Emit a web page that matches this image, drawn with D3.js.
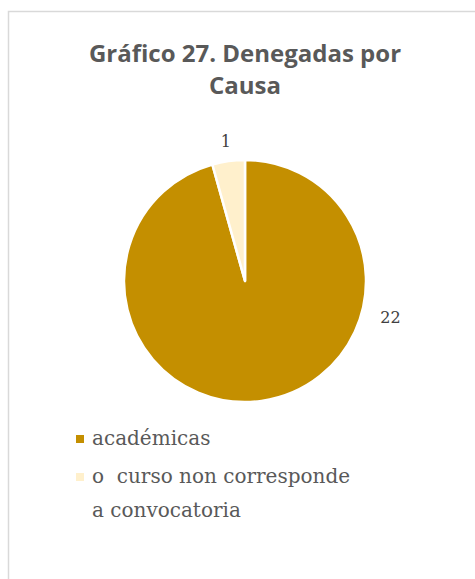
<!DOCTYPE html>
<html>
<head>
<meta charset="utf-8">
<script src="https://cdn.jsdelivr.net/npm/d3@7"></script>
<style>
  html, body { margin: 0; padding: 0; background: #fff; }
</style>
</head>
<body>
<svg id="chart" width="475" height="579"></svg>
<script>
const categories = ["académicas", "o  curso non corresponde a convocatoria"];
const values = [22, 1];
const colors = ["#C48F00", "#FFF0CC"];
const titleLines = ["Gráfico 27. Denegadas por", "Causa"];
const legendLines = [["académicas"], ["o  curso non corresponde", "a convocatoria"]];

const svg = d3.select("#chart");

// outer frame
svg.append("rect")
  .attr("x", 8.5).attr("y", 11.5)
  .attr("width", 480).attr("height", 600)
  .attr("fill", "#fff")
  .attr("stroke", "#D9D9D9").attr("stroke-width", 1.5);

// title
const title = svg.append("text")
  .attr("text-anchor", "middle")
  .attr("font-family", "'Open Sans', sans-serif")
  .attr("font-weight", "bold")
  .attr("font-size", 24)
  .attr("fill", "#595959");
titleLines.forEach((t, i) => {
  title.append("tspan").attr("x", 245).attr("y", 62 + i * 32).text(t);
});

// pie
const cx = 245, cy = 281, r = 121;
const pie = d3.pie().sort(null).value(d => d)
  .startAngle(0).endAngle(2 * Math.PI);
const arcs = pie(values);
const arc = d3.arc().innerRadius(0).outerRadius(r);
const g = svg.append("g").attr("transform", `translate(${cx},${cy})`);
g.selectAll("path").data(arcs).join("path")
  .attr("d", arc)
  .attr("fill", (d, i) => colors[i])
  .attr("stroke", "#fff")
  .attr("stroke-width", 2.5)
  .attr("stroke-linejoin", "round");

// data labels (outside end, Excel-like placement)
function labelPos(d, i) {
  // small slice: at its mid-angle; large slice: pushed to the right side
  const a = i === 0 ? (d.startAngle + (Math.PI * 104 / 180)) - d.startAngle : (d.startAngle + d.endAngle) / 2;
  const rr = i === 0 ? r + 29 : r + 20;
  return [Math.sin(a) * rr, -Math.cos(a) * rr];
}
g.selectAll("text.lbl").data(arcs).join("text")
  .attr("class", "lbl")
  .attr("transform", (d, i) => {
    const [x, y] = labelPos(d, i);
    return `translate(${x},${y})`;
  })
  .attr("text-anchor", "middle")
  .attr("dy", "0.35em")
  .attr("font-family", "'DejaVu Serif', serif")
  .attr("font-size", 16)
  .attr("fill", "#404040")
  .text(d => d.data);

// legend
const legend = svg.append("g");
const legendY = [445, 483];
legendLines.forEach((lines, i) => {
  legend.append("rect")
    .attr("x", 76).attr("y", legendY[i] - 10)
    .attr("width", 8).attr("height", 8)
    .attr("fill", colors[i]);
  const t = legend.append("text")
    .attr("font-family", "'DejaVu Serif', serif")
    .attr("font-size", 20)
    .attr("fill", "#595959")
    .attr("xml:space", "preserve")
    .style("white-space", "pre");
  lines.forEach((ln, j) => {
    t.append("tspan").attr("x", 92).attr("y", legendY[i] + j * 34).text(ln);
  });
});
</script>
</body>
</html>
